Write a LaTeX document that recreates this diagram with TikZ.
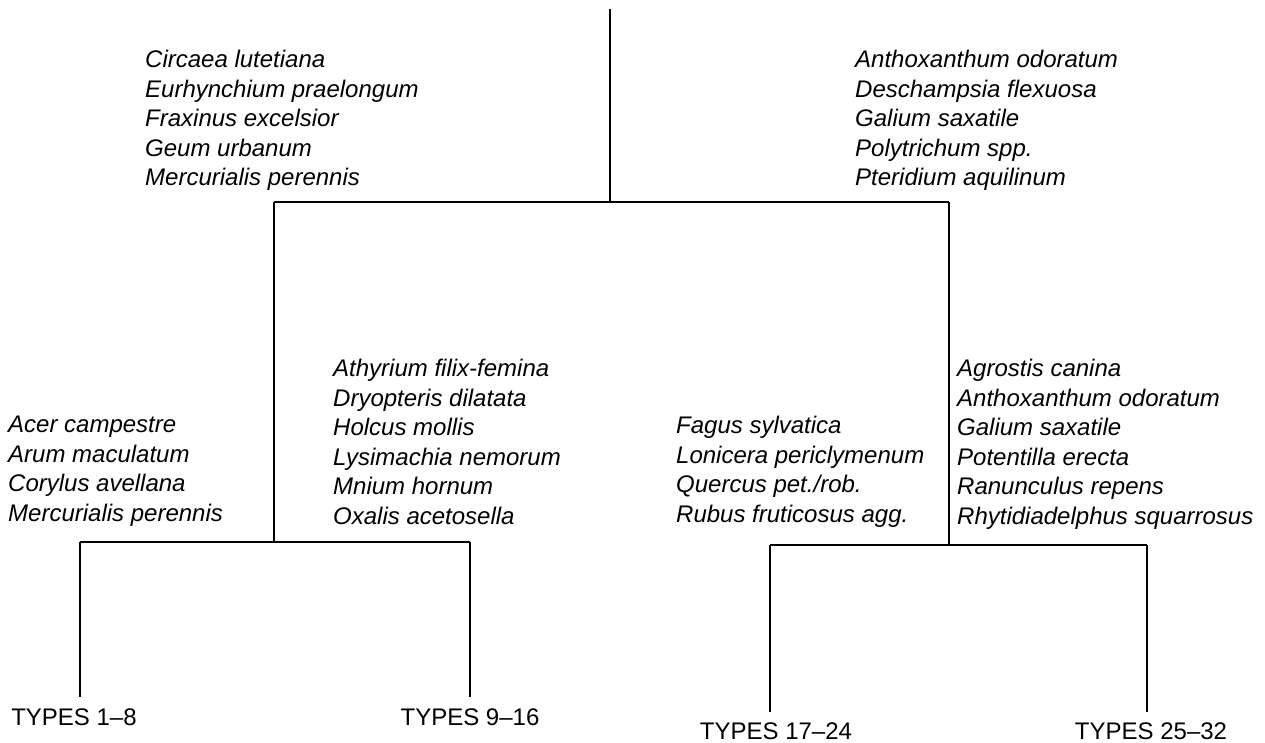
\documentclass[tikz,border=0pt]{standalone}
\usepackage{fontspec}
\setmainfont{Liberation Sans}
\usetikzlibrary{positioning}
\begin{document}
\begin{tikzpicture}[x=1pt, y=-1pt]
            \tikzset{species/.style={anchor=north west, inner sep=0pt, align=left, font={\itshape\fontsize{24}{29.5}\selectfont}}}
            \tikzset{types/.style={inner sep=0pt, font={\fontsize{24}{29}\selectfont}}}
            \tikzset{branch/.style={line width=1.5pt}}
            \useasboundingbox (0, 0) rectangle (1265, 743);

            \coordinate (root) at (610, 9);
            \coordinate (split) at (610, 202);
            \coordinate (splitL) at (274, 202);
            \coordinate (splitR) at (949, 202);
            \coordinate (forkL) at (274, 542);
            \coordinate (forkR) at (949, 545);
            \coordinate (legA) at (80, 542);
            \coordinate (legB) at (470, 542);
            \coordinate (legC) at (770, 545);
            \coordinate (legD) at (1147, 545);
            \coordinate (endA) at (80, 697);
            \coordinate (endB) at (470, 697);
            \coordinate (endC) at (770, 712);
            \coordinate (endD) at (1147, 712);

            \draw[branch] (root) -- (split);
            \draw[branch] (splitL) -- (splitR);
            \draw[branch] (splitL) -- (forkL);
            \draw[branch] (splitR) -- (forkR);
            \draw[branch] (legA) -- (legB);
            \draw[branch] (legC) -- (legD);
            \draw[branch] (legA) -- (endA);
            \draw[branch] (legB) -- (endB);
            \draw[branch] (legC) -- (endC);
            \draw[branch] (legD) -- (endD);

            \node[species] (circaea) at (145, 50) {Circaea lutetiana\\Eurhynchium praelongum\\Fraxinus excelsior\\Geum urbanum\\Mercurialis perennis};
            \node[species] (anthox) at (855, 50) {Anthoxanthum odoratum\\Deschampsia flexuosa\\Galium saxatile\\Polytrichum spp.\\Pteridium aquilinum};
            \node[species] (acer) at (8, 416) {Acer campestre\\Arum maculatum\\Corylus avellana\\Mercurialis perennis};
            \node[species] (athyrium) at (333, 359) {Athyrium filix-femina\\Dryopteris dilatata\\Holcus mollis\\Lysimachia nemorum\\Mnium hornum\\Oxalis acetosella};
            \node[species] (fagus) at (676, 416) {Fagus sylvatica\\Lonicera periclymenum\\Quercus pet./rob.\\Rubus fruticosus agg.};
            \node[species] (agrostis) at (957, 359) {Agrostis canina\\Anthoxanthum odoratum\\Galium saxatile\\Potentilla erecta\\Ranunculus repens\\Rhytidiadelphus squarrosus};

            \node[types, below=12pt of endA, xshift=-6pt] (typesA) {TYPES 1–8};
            \node[types, below=12pt of endB] (typesB) {TYPES 9–16};
            \node[types, below=11pt of endC, xshift=6pt] (typesC) {TYPES 17–24};
            \node[types, below=11pt of endD, xshift=4pt] (typesD) {TYPES 25–32};
\end{tikzpicture}
\end{document}
